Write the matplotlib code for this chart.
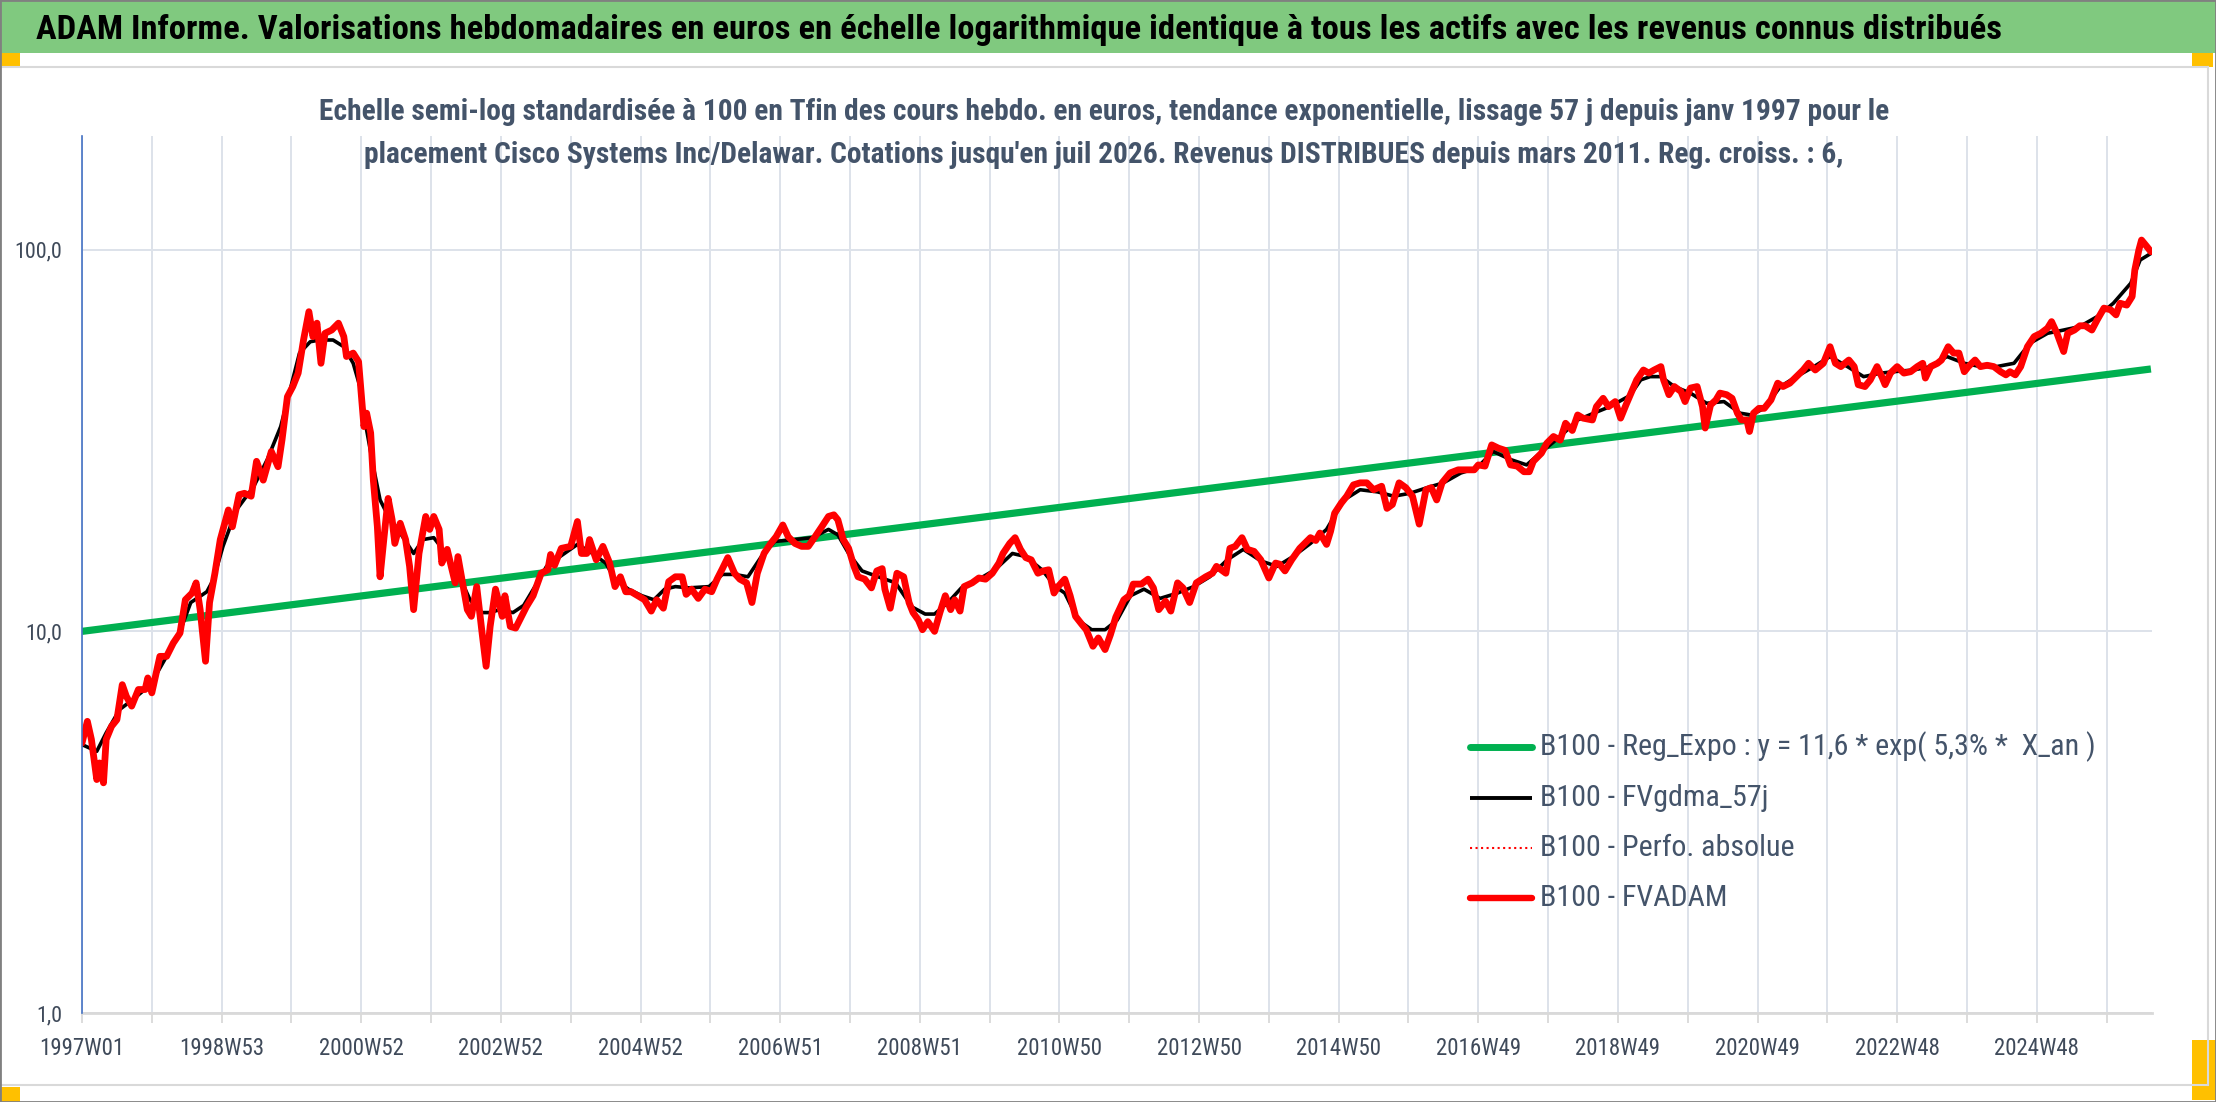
import matplotlib
matplotlib.use("Agg")
import matplotlib.pyplot as plt
from matplotlib import font_manager as fm
from matplotlib.lines import Line2D
from matplotlib.patches import Rectangle
from matplotlib.ticker import FixedLocator, NullLocator, FixedFormatter

W, H = 2216, 1102

TITLE = ("ADAM Informe. Valorisations hebdomadaires en euros en échelle logarithmique "
         "identique à tous les actifs avec les revenus connus distribués")
SUB1 = ("Echelle semi-log standardisée à 100 en Tfin des cours hebdo. en euros, tendance "
        "exponentielle, lissage 57 j depuis janv 1997 pour le")
SUB2 = ("placement Cisco Systems Inc/Delawar. Cotations jusqu'en juil 2026. Revenus "
        "DISTRIBUES depuis mars 2011. Reg. croiss. : 6,")

N_WEEKS = 1542
tick_labels = ["1997W01", "1998W53", "2000W52", "2002W52", "2004W52", "2006W51",
               "2008W51", "2010W50", "2012W50", "2014W50", "2016W49", "2018W49",
               "2020W49", "2022W48", "2024W48"]
legend_labels = ["B100 - Reg_Expo : y = 11,6 * exp( 5,3% *  X_an )",
                 "B100 - FVgdma_57j",
                 "B100 - Perfo. absolue",
                 "B100 - FVADAM"]

# regression line (straight on log scale), week index -> value
trend_weeks = [0, 1541]
trend_values = [10.0, 48.7]

# FVADAM
red_weeks = [
    0, 4, 7, 11, 13, 16, 18, 22, 26, 30, 33, 37, 42, 47, 49, 52, 58, 63, 68, 73,
    77, 82, 85, 88, 92, 95, 99, 103, 109, 112, 117, 121, 126, 130, 135, 141, 146, 149, 153, 157,
    161, 165, 169, 172, 175, 178, 181, 186, 191, 195, 197, 202, 206, 210, 212, 215, 217, 220, 222, 225,
    228, 231, 233, 237, 241, 244, 247, 251, 256, 259, 262, 266, 268, 272, 275, 278, 280, 287, 290, 294,
    298, 301, 304, 308, 313, 315, 319, 323, 326, 331, 336, 342, 347, 349, 352, 357, 364, 369, 372, 376,
    378, 383, 388, 393, 397, 401, 405, 409, 414, 419, 424, 428, 433, 437, 442, 447, 450, 454, 459, 464,
    469, 473, 477, 481, 486, 490, 495, 499, 503, 508, 513, 517, 522, 526, 531, 536, 541, 546, 551, 556,
    560, 563, 567, 571, 575, 578, 583, 588, 592, 596, 598, 602, 607, 612, 616, 619, 623, 626, 630, 635,
    639, 643, 647, 650, 654, 657, 663, 668, 673, 678, 683, 686, 691, 695, 699, 703, 707, 712, 716, 720,
    724, 727, 732, 736, 740, 745, 748, 753, 757, 762, 766, 770, 776, 780, 783, 789, 794, 798, 802, 807,
    811, 816, 820, 825, 830, 837, 842, 845, 852, 855, 859, 864, 868, 873, 878, 884, 889, 892, 896, 901,
    907, 915, 919, 922, 927, 930, 933, 938, 942, 947, 952, 957, 962, 968, 972, 976, 981, 986, 991, 996,
    1001, 1005, 1009, 1013, 1019, 1025, 1033, 1037, 1040, 1045, 1050, 1055, 1060, 1064, 1069, 1074, 1078, 1081, 1087, 1091,
    1096, 1101, 1105, 1110, 1114, 1118, 1125, 1128, 1133, 1137, 1142, 1146, 1150, 1153, 1158, 1163, 1167, 1171, 1176, 1178,
    1182, 1186, 1191, 1194, 1198, 1203, 1207, 1209, 1213, 1217, 1220, 1225, 1229, 1233, 1236, 1240, 1242, 1245, 1249, 1253,
    1258, 1263, 1267, 1272, 1277, 1282, 1286, 1291, 1297, 1302, 1306, 1310, 1316, 1320, 1323, 1328, 1332, 1337, 1341, 1343,
    1347, 1352, 1357, 1362, 1367, 1371, 1373, 1377, 1382, 1385, 1390, 1394, 1398, 1402, 1405, 1410, 1414, 1419, 1424, 1429,
    1433, 1436, 1440, 1444, 1449, 1454, 1459, 1464, 1467, 1471, 1476, 1479, 1484, 1488, 1492, 1497, 1501, 1506, 1511, 1515,
    1518, 1523, 1527, 1529, 1532, 1534, 1538, 1541]
red_values = [
    5.10, 5.81, 5.21, 4.09, 4.52, 4.01, 5.21, 5.64, 5.87, 7.25, 6.76, 6.37, 7.04, 7.04, 7.55, 6.90, 8.60, 8.60, 9.32, 9.90,
    12.1, 12.6, 13.4, 11.4, 8.35, 11.9, 14.2, 17.4, 20.8, 18.8, 22.8, 23.0, 22.6, 27.9, 24.9, 29.6, 27.0, 31.8, 41.2, 43.8,
    47.5, 58.0, 68.8, 59.2, 64.2, 50.4, 60.4, 61.6, 64.2, 59.2, 52.5, 53.6, 50.9, 34.4, 37.3, 33.1, 24.9, 18.8, 13.9, 17.7,
    22.3, 19.6, 17.0, 19.2, 17.4, 14.8, 11.4, 16.0, 20.0, 18.5, 20.0, 18.5, 15.1, 16.4, 14.8, 13.4, 15.7, 11.4, 10.95, 13.1,
    9.90, 8.10, 10.3, 12.9, 10.95, 12.4, 10.3, 10.2, 10.7, 11.6, 12.4, 14.2, 14.5, 15.9, 14.9, 16.5, 16.7, 19.4, 16.0, 16.0,
    17.4, 15.4, 16.7, 15.1, 13.1, 13.9, 12.7, 12.7, 12.4, 12.1, 11.3, 12.1, 11.5, 13.5, 13.9, 13.9, 12.5, 12.9, 12.2, 12.9,
    12.7, 13.7, 14.6, 15.6, 14.2, 13.7, 13.4, 11.9, 14.2, 16.0, 17.0, 17.7, 19.0, 17.7, 17.0, 16.7, 16.7, 17.7, 18.8, 20.0,
    20.2, 19.6, 17.4, 16.5, 14.8, 13.9, 13.7, 13.0, 14.4, 14.6, 12.9, 11.5, 14.2, 13.9, 11.9, 11.2, 10.7, 10.1, 10.6, 10.0,
    11.2, 12.4, 11.4, 12.1, 11.3, 13.1, 13.4, 13.8, 13.7, 14.2, 15.1, 16.0, 17.0, 17.6, 16.4, 15.6, 15.4, 14.2, 14.4, 14.5,
    12.6, 13.1, 13.7, 12.4, 10.95, 10.4, 10.1, 9.14, 9.61, 8.96, 9.8, 10.9, 12.1, 12.4, 13.3, 13.3, 13.7, 13.0, 11.4, 12.0,
    11.3, 13.4, 13.0, 11.9, 13.4, 13.9, 14.2, 14.8, 14.2, 16.5, 16.7, 17.6, 16.4, 16.2, 15.4, 13.8, 15.1, 15.0, 14.4, 15.4,
    16.5, 17.6, 17.3, 18.1, 16.9, 18.3, 20.4, 21.7, 22.6, 24.2, 24.5, 24.5, 23.5, 24.0, 21.0, 21.5, 24.5, 23.8, 22.6, 19.1,
    23.5, 23.8, 22.1, 24.5, 26.0, 26.5, 26.5, 26.5, 27.3, 27.1, 30.8, 30.2, 29.8, 27.3, 27.1, 26.2, 26.2, 27.9, 29.3, 31.1,
    32.4, 31.7, 35.1, 33.6, 36.9, 36.2, 35.8, 38.8, 40.8, 38.8, 40.0, 36.2, 39.2, 41.5, 45.6, 48.4, 47.5, 48.4, 49.4, 45.6,
    41.7, 43.8, 42.5, 40.0, 43.4, 43.8, 38.8, 34.1, 39.2, 40.4, 42.1, 41.7, 40.8, 37.3, 35.8, 35.8, 33.4, 37.3, 38.4, 38.4,
    40.4, 44.7, 43.8, 44.7, 46.5, 48.4, 50.4, 48.4, 50.4, 55.7, 50.4, 49.4, 51.4, 49.4, 44.3, 43.8, 45.6, 49.4, 46.1, 44.3,
    47.5, 49.4, 47.5, 47.9, 49.4, 50.4, 46.1, 49.4, 50.4, 51.4, 55.7, 53.6, 53.6, 47.9, 49.4, 51.4, 49.4, 49.8, 49.4, 47.9,
    47.0, 47.9, 47.0, 49.4, 55.7, 59.2, 60.4, 62.3, 64.8, 60.4, 54.1, 60.4, 61.6, 63.2, 63.2, 61.6, 65.5, 70.3, 69.6, 67.5,
    72.4, 71.6, 75.4, 88.5, 99.8, 106.0, 101.9, 98.8]

# FVgdma_57j smoothed curve
black_weeks = [
    0, 11, 18, 28, 38, 51, 63, 73, 81, 93, 98, 105, 115, 128, 138, 148, 155, 162, 170, 177,
    187, 195, 202, 207, 212, 217, 222, 227, 237, 247, 254, 262, 267, 274, 282, 289, 297, 304, 311, 321,
    329, 339, 346, 356, 369, 378, 390, 397, 407, 417, 426, 434, 442, 452, 467, 477, 486, 496, 506, 516,
    531, 544, 556, 563, 571, 581, 593, 606, 618, 628, 635, 645, 655, 668, 680, 693, 703, 715, 725, 732,
    742, 752, 762, 771, 781, 791, 803, 816, 828, 840, 853, 865, 878, 890, 902, 915, 927, 940, 952, 965,
    977, 989, 1002, 1014, 1027, 1039, 1051, 1064, 1076, 1089, 1101, 1114, 1126, 1138, 1153, 1161, 1168, 1176, 1186, 1198,
    1210, 1223, 1235, 1243, 1253, 1265, 1277, 1290, 1302, 1315, 1327, 1340, 1352, 1364, 1377, 1389, 1402, 1414, 1426, 1439,
    1451, 1464, 1476, 1488, 1501, 1513, 1526, 1533, 1541]
black_values = [
    5.05, 4.85, 5.42, 6.24, 6.63, 7.25, 8.60, 10.0, 11.9, 12.7, 13.7, 16.7, 20.8, 24.0, 28.2, 34.4, 42.9, 53.6, 57.4, 58.0,
    58.0, 55.7, 50.4, 43.8, 33.7, 27.0, 22.1, 20.4, 18.1, 16.0, 17.4, 17.6, 16.7, 15.1, 13.7, 12.1, 11.2, 11.2, 11.4, 11.2,
    11.7, 13.4, 14.8, 15.7, 16.9, 16.2, 15.1, 13.7, 12.9, 12.4, 12.1, 12.9, 13.1, 13.0, 13.1, 14.1, 14.1, 13.9, 15.7, 17.2,
    17.4, 17.6, 18.5, 17.9, 16.0, 14.4, 13.9, 13.4, 11.6, 11.1, 11.1, 11.9, 13.0, 13.7, 14.5, 16.0, 15.7, 14.5, 13.1, 12.6,
    10.7, 10.1, 10.1, 10.7, 12.4, 12.9, 12.2, 12.6, 13.1, 13.9, 15.4, 16.4, 15.3, 14.8, 15.7, 17.0, 18.5, 22.1, 23.5, 23.2,
    22.6, 23.0, 23.8, 24.5, 26.0, 26.8, 29.6, 28.2, 27.3, 29.9, 32.4, 35.8, 37.3, 38.8, 41.5, 45.6, 46.5, 46.5, 43.8, 42.1,
    39.6, 40.0, 37.3, 36.9, 38.4, 43.8, 46.5, 49.4, 52.5, 49.4, 46.5, 47.5, 48.0, 48.4, 49.4, 52.5, 50.4, 49.4, 49.4, 50.4,
    56.9, 60.4, 61.6, 62.9, 66.8, 72.4, 81.7, 94.0, 97.8]


def pick_font(cands):
    names = {f.name for f in fm.fontManager.ttflist}
    for c in cands:
        if c in names:
            return c
    return "DejaVu Sans"


FONT = pick_font(["Liberation Sans Narrow", "Roboto Condensed", "Open Sans Condensed",
                  "Noto Sans", "Lato"])
SLATE = "#44546A"


def fx(px):
    return px / W


def fy(py):
    return 1 - py / H


fig = plt.figure(figsize=(W / 100, H / 100), dpi=100)
fig.patch.set_facecolor("white")
renderer = fig.canvas.get_renderer()


def fit_size(txt, target_px, **kw):
    t = fig.text(0, 0, txt, fontsize=20, family=FONT, **kw)
    w = t.get_window_extent(renderer=renderer).width
    t.remove()
    return 20 * target_px / w


# frame decorations
fig.add_artist(Rectangle((0, fy(53)), 1, 53 / H, transform=fig.transFigure,
                         facecolor="#80C97F", edgecolor="none", zorder=0))
fig.add_artist(Rectangle((0, 0), 1, 1, transform=fig.transFigure, facecolor="none",
                         edgecolor="#808080", lw=2, zorder=5))
fig.add_artist(Line2D([0, fx(2208)], [fy(67), fy(67)], transform=fig.transFigure,
                      color="#D9D9D9", lw=1.5))
fig.add_artist(Line2D([fx(2208), fx(2208)], [fy(67), fy(1085)], transform=fig.transFigure,
                      color="#D9D9D9", lw=1.5))
fig.add_artist(Line2D([0, fx(2208)], [fy(1085), fy(1085)], transform=fig.transFigure,
                      color="#D9D9D9", lw=1.5))
for (x0, y0, x1, y1) in [(0, 53, 20, 66), (2192, 53, 2213, 67), (0, 1087, 20, 1102),
                         (2192, 1040, 2216, 1100)]:
    fig.add_artist(Rectangle((fx(x0), fy(y1)), (x1 - x0) / W, (y1 - y0) / H,
                             transform=fig.transFigure, facecolor="#FFC000",
                             edgecolor="none", zorder=1))

# titles
fig.text(fx(36), fy(39), TITLE, ha="left", va="baseline", family=FONT, weight="bold",
         color="black", fontsize=fit_size(TITLE, 1952, weight="bold"))
sub_fs = fit_size(SUB1, 1566, weight="bold")
fig.text(fx(1104), fy(120), SUB1, ha="center", va="baseline", family=FONT,
         weight="bold", color=SLATE, fontsize=sub_fs)
fig.text(fx(1104), fy(163), SUB2, ha="center", va="baseline", family=FONT,
         weight="bold", color=SLATE, fontsize=sub_fs)

# plot area
ax = fig.add_axes([fx(82), fy(1013), (2152 - 82) / W, (1013 - 136) / H])
ax.set_facecolor("none")
ax.set_yscale("log")
ax.set_ylim(1, 198.6)
ax.set_xlim(0, N_WEEKS - 0.2)

ax.plot(trend_weeks, trend_values, color="#00B050", lw=5.2, solid_capstyle="butt", zorder=2)
ax.plot(black_weeks, black_values, color="black", lw=2.6, zorder=3)
ax.plot(red_weeks, red_values, color="red", lw=1.5, ls=":", zorder=3.5)
ax.plot(red_weeks, red_values, color="#FF0000", lw=4.9, zorder=4,
        solid_joinstyle="round", solid_capstyle="round")

label_pos = [104 * i for i in range(len(tick_labels))]
grid_pos = list(range(0, N_WEEKS, 52))
ax.xaxis.set_major_locator(FixedLocator(label_pos))
ax.xaxis.set_major_formatter(FixedFormatter(tick_labels))
ax.xaxis.set_minor_locator(FixedLocator([p for p in grid_pos if p not in label_pos]))
ax.yaxis.set_major_locator(FixedLocator([1, 10, 100]))
ax.yaxis.set_major_formatter(FixedFormatter(["1,0", "10,0", "100,0"]))
ax.yaxis.set_minor_locator(NullLocator())

xfs = fit_size("1997W01", 85)
yfs = fit_size("100,0", 48)
ax.tick_params(axis="x", which="both", direction="out", length=7, width=1.3,
               color="#D9D9D9", labelsize=xfs, labelcolor="#3F4A5A", pad=10)
ax.tick_params(axis="y", which="both", length=0, labelsize=yfs,
               labelcolor="#3F4A5A", pad=14)
for lab in ax.get_xticklabels() + ax.get_yticklabels():
    lab.set_family(FONT)

ax.grid(True, which="both", axis="x", color="#DDE2EA", lw=1.4)
ax.grid(True, which="major", axis="y", color="#DDE2EA", lw=1.4)
ax.set_axisbelow(True)

for s in ["top", "right"]:
    ax.spines[s].set_visible(False)
ax.spines["left"].set_color("#4472C4")
ax.spines["left"].set_linewidth(1.2)
ax.spines["left"].set_zorder(5)
ax.spines["bottom"].set_color("#D9D9D9")
ax.spines["bottom"].set_linewidth(2)

# legend drawn by hand, no frame
leg_fs = fit_size(legend_labels[0], 555)
leg_rows = [747, 798, 848, 898]
leg_styles = [dict(color="#00B050", lw=5, solid_capstyle="round"),
              dict(color="black", lw=2.8, solid_capstyle="butt"),
              dict(color="red", lw=1.5, ls=":"),
              dict(color="#FF0000", lw=4.6, solid_capstyle="round")]
for row, lab, st in zip(leg_rows, legend_labels, leg_styles):
    fig.add_artist(Line2D([fx(1470), fx(1532)], [fy(row), fy(row)],
                          transform=fig.transFigure, **st))
    fig.text(fx(1540), fy(row), lab, ha="left", va="center", family=FONT,
             color=SLATE, fontsize=leg_fs)

fig.savefig("out.png", dpi=100)
